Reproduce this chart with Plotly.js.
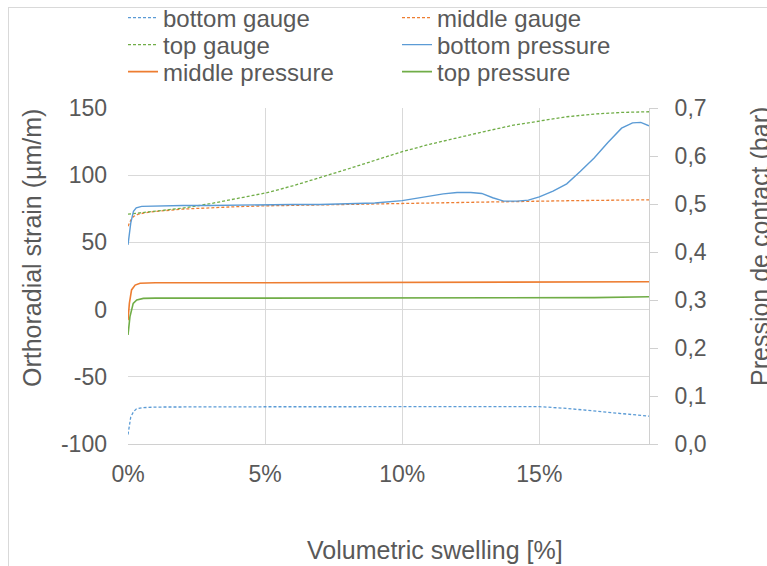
<!DOCTYPE html>
<html>
<head>
<meta charset="utf-8">
<script src="https://cdn.plot.ly/plotly-3.0.1.min.js"></script>
<style>
  html, body { margin: 0; padding: 0; background: #fff; }
  #wrap { position: relative; width: 767px; height: 566px; overflow: hidden; }
  #chart { position: absolute; left: 0; top: 0; width: 767px; height: 566px; }
  #frame { position: absolute; left: 8px; top: 7px; width: 800px; height: 600px;
           border-left: 1px solid #d9d9d9; border-top: 1px solid #d9d9d9; pointer-events: none; }
</style>
</head>
<body>
<div id="wrap"><div id="chart"></div><div id="frame"></div></div>
<script>
// ---------- data (x = volumetric swelling in %) ----------
const xBottomGauge = [0, 0.05, 0.1, 0.2, 0.3, 0.5, 1, 5, 10, 15, 16, 17, 18, 19];
const yBottomGauge = [-93, -85, -80, -76, -74, -73, -72.5, -72.3, -72, -72.2, -73.5, -75.5, -77.5, -79.3];

const xMiddleGauge = [0, 0.1, 0.2, 0.35, 0.6, 1, 2, 3, 4, 5, 7, 10, 13, 16, 19];
const yMiddleGauge = [62, 66.5, 69.3, 70.8, 72, 73, 74.8, 75.8, 76.6, 77.2, 78, 79, 80, 81, 81.7];

const xTopGauge = [0, 1, 2, 3, 4, 5, 6, 7, 8, 9, 10, 11, 12, 13, 14, 15, 16, 17, 18, 19];
const yTopGauge = [71, 73, 75.5, 78.8, 82.5, 86.7, 92, 98, 104.5, 111, 117.5, 123, 128, 132.5, 137, 140.5, 143.5, 145.5, 146.7, 147.2];

const xBottomPressure = [0, 0.1, 0.2, 0.3, 0.5, 1, 2, 3, 4, 5, 6, 7, 8, 9, 10, 10.5, 11, 11.5, 12, 12.5, 12.9, 13.3, 13.7, 14.2, 14.6, 15, 15.5, 16, 16.5, 17, 17.5, 18, 18.4, 18.7, 19];
const yBottomPressure = [0.415, 0.46, 0.485, 0.492, 0.495, 0.496, 0.497, 0.497, 0.498, 0.498, 0.499, 0.499, 0.501, 0.502, 0.507, 0.512, 0.517, 0.521, 0.524, 0.524, 0.522, 0.513, 0.506, 0.506, 0.508, 0.515, 0.527, 0.542, 0.568, 0.596, 0.628, 0.658, 0.669, 0.670, 0.663];

const xMiddlePressure = [0, 0.05, 0.13, 0.26, 0.44, 1, 5, 10, 15, 19];
const yMiddlePressure = [0.258, 0.293, 0.321, 0.331, 0.335, 0.336, 0.336, 0.337, 0.337, 0.338];

const xTopPressure = [0, 0.07, 0.19, 0.32, 0.56, 1, 5, 10, 15, 17, 19];
const yTopPressure = [0.227, 0.265, 0.293, 0.300, 0.3034, 0.304, 0.304, 0.304, 0.3045, 0.305, 0.3068];

const seriesNames = ['bottom gauge', 'middle gauge', 'top gauge', 'bottom pressure', 'middle pressure', 'top pressure'];

const xTickVals = [0, 5, 10, 15];
const xTickText = ['0%', '5%', '10%', '15%'];
const yTickVals = [-100, -50, 0, 50, 100, 150];
const yTickText = ['-100', '-50', '0', '50', '100', '150'];
const y2TickVals = [0, 0.1, 0.2, 0.3, 0.4, 0.5, 0.6, 0.7];
const y2TickText = ['0,0', '0,1', '0,2', '0,3', '0,4', '0,5', '0,6', '0,7'];

const xTitle = 'Volumetric swelling [%]';
const yTitle = 'Orthoradial strain (µm/m)';
const y2Title = 'Pression de contact (bar)';

// ---------- styling ----------
const BLUE = '#5B9BD5', ORANGE = '#ED7D31', GREEN = '#70AD47';
const TXT = '#595959';
const FONT = 'Liberation Sans, Arial, sans-serif';
const W = 767, H = 566;
const M = {l: 128, r: 118, t: 108, b: 122, autoexpand: false};
const PW = W - M.l - M.r, PH = H - M.t - M.b;
const px2x = p => (p - M.l) / PW;
const px2y = p => (H - M.b - p) / PH;

const dotted = '3px,2px';

function tr(x, y, name, color, dash, yaxis, legendId, width) {
  return {
    type: 'scatter', mode: 'lines', x: x, y: y, name: name, yaxis: yaxis,
    legend: legendId, showlegend: true,
    line: {color: color, width: width, dash: dash},
    hoverinfo: 'skip'
  };
}

const data = [
  tr(xBottomPressure, yBottomPressure, seriesNames[3], BLUE, 'solid', 'y2', 'legend4', 1.4),
  tr(xMiddlePressure, yMiddlePressure, seriesNames[4], ORANGE, 'solid', 'y2', 'legend5', 1.6),
  tr(xTopPressure, yTopPressure, seriesNames[5], GREEN, 'solid', 'y2', 'legend6', 1.6),
  tr(xBottomGauge, yBottomGauge, seriesNames[0], BLUE, dotted, 'y', 'legend', 1.3),
  tr(xMiddleGauge, yMiddleGauge, seriesNames[1], ORANGE, dotted, 'y', 'legend2', 1.3),
  tr(xTopGauge, yTopGauge, seriesNames[2], GREEN, dotted, 'y', 'legend3', 1.3)
];

const legFont = {family: FONT, size: 24, color: TXT};
function leg(pxTextX, pxRowY) {
  return {
    x: px2x(pxTextX - 40), y: px2y(pxRowY), xanchor: 'left', yanchor: 'middle',
    orientation: 'v', bgcolor: 'rgba(0,0,0,0)', borderwidth: 0,
    font: legFont, itemwidth: 30, tracegroupgap: 0
  };
}
const colA = 163, colB = 437;
const rows = [18, 45, 72];

const tickFont = {family: FONT, size: 23, color: TXT};

const layout = {
  width: W, height: H,
  margin: M,
  paper_bgcolor: '#ffffff', plot_bgcolor: '#ffffff',
  font: {family: FONT, color: TXT, size: 22},
  showlegend: true,
  legend: leg(colA, rows[0]),
  legend2: leg(colB, rows[0]),
  legend3: leg(colA, rows[1]),
  legend4: leg(colB, rows[1]),
  legend5: leg(colA, rows[2]),
  legend6: leg(colB, rows[2]),
  xaxis: {
    range: [0, 19], tickmode: 'array', tickvals: xTickVals, ticktext: xTickText,
    showgrid: true, gridcolor: '#d9d9d9', gridwidth: 1,
    showline: true, linecolor: '#d0d0d0', linewidth: 1,
    zeroline: false, ticks: '', ticklabelstandoff: 9,
    tickfont: tickFont, fixedrange: true
  },
  yaxis: {
    range: [-100, 150], tickmode: 'array', tickvals: yTickVals, ticktext: yTickText,
    showgrid: true, gridcolor: '#d9d9d9', gridwidth: 1,
    showline: false, zeroline: false, ticks: '', ticklabelstandoff: 20,
    tickfont: tickFont, fixedrange: true
  },
  yaxis2: {
    range: [0, 0.7], overlaying: 'y', side: 'right',
    tickmode: 'array', tickvals: y2TickVals, ticktext: y2TickText,
    showgrid: false, zeroline: false,
    showline: true, linecolor: '#d0d0d0', linewidth: 1,
    ticks: 'outside', ticklen: 8, tickcolor: '#d0d0d0', tickwidth: 1,
    ticklabelstandoff: 12,
    tickfont: tickFont, fixedrange: true
  },
  annotations: [
    {text: xTitle, xref: 'paper', yref: 'paper', x: px2x(435), y: px2y(550),
     xanchor: 'center', yanchor: 'middle', showarrow: false,
     font: {family: FONT, size: 25, color: TXT}},
    {text: yTitle, xref: 'paper', yref: 'paper', x: px2x(32), y: px2y(248),
     xanchor: 'center', yanchor: 'middle', showarrow: false, textangle: -90,
     font: {family: FONT, size: 25, color: TXT}},
    {text: y2Title, xref: 'paper', yref: 'paper', x: px2x(760), y: px2y(247),
     xanchor: 'center', yanchor: 'middle', showarrow: false, textangle: -90,
     font: {family: FONT, size: 25, color: TXT}}
  ]
};

Plotly.newPlot('chart', data, layout, {displayModeBar: false, staticPlot: true});
</script>
</body>
</html>
